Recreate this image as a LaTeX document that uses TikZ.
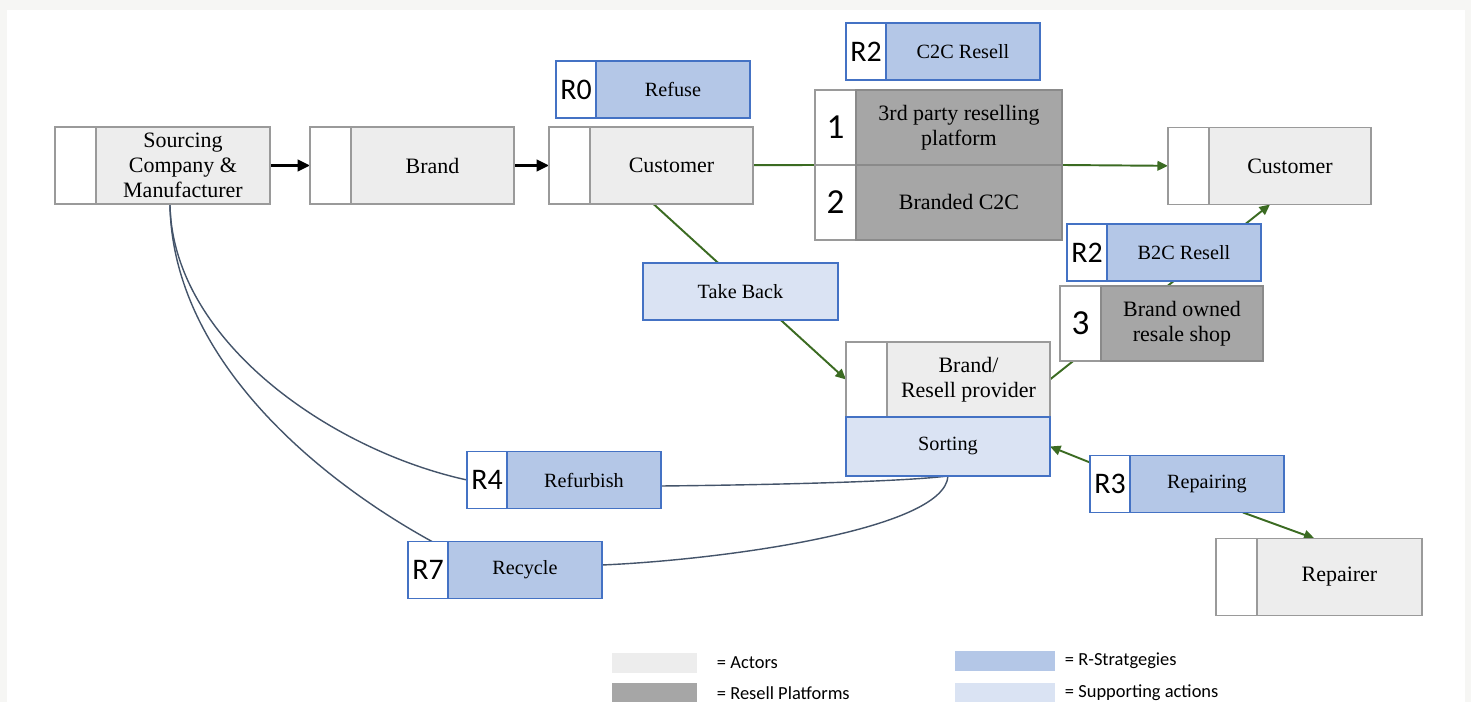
\documentclass[tikz,border=0pt]{standalone}
\usepackage{fontspec}
\setmainfont{Liberation Serif}
\newfontfamily\calibri{Carlito}
\usetikzlibrary{arrows.meta, positioning, calc}

\definecolor{actorfill}{HTML}{EDEDED}
\definecolor{actorline}{HTML}{9A9A9A}
\definecolor{platfill}{HTML}{A6A6A6}
\definecolor{platline}{HTML}{8A8A8A}
\definecolor{rfill}{HTML}{B4C7E7}
\definecolor{rline}{HTML}{4472C4}
\definecolor{suppfill}{HTML}{DAE3F3}
\definecolor{flowgreen}{HTML}{3B6B22}
\definecolor{loopblue}{HTML}{44546A}
\definecolor{paperbg}{HTML}{F6F6F4}

\pgfdeclarelayer{paper}
\pgfdeclarelayer{lines}
\pgfsetlayers{paper,lines,main}

\begin{document}
\begin{tikzpicture}[x=0.02cm, y=-0.02cm,
    every node/.style={font=\fontsize{12.5}{14.2}\selectfont, outer sep=0pt, line width=1pt},
    blanktab/.style={draw=actorline, fill=white, minimum width=0.82cm, minimum height=1.54cm, anchor=west},
    actor/.style={draw=actorline, fill=actorfill, minimum width=3.26cm, minimum height=1.54cm, align=center, inner sep=1pt},
    rtab/.style={draw=rline, fill=white, minimum width=0.8cm, minimum height=1.14cm, anchor=west, inner sep=0pt, font=\calibri\fontsize{17}{17}\selectfont},
    rbox/.style={draw=rline, fill=rfill, minimum width=3.08cm, minimum height=1.14cm, font=\fontsize{11.5}{13}\selectfont},
    ptab/.style={draw=actorline, fill=white, minimum width=0.82cm, minimum height=1.5cm, anchor=west, inner sep=0pt, font=\calibri\fontsize{20}{20}\selectfont},
    platform/.style={draw=platline, fill=platfill, minimum width=4.12cm, minimum height=1.5cm, align=center, inner sep=1pt},
    support/.style={draw=rline, fill=suppfill, minimum height=1.14cm, font=\fontsize{11.5}{13}\selectfont},
    greenflow/.style={flowgreen, line width=1.1pt},
    backflow/.style={loopblue, line width=0.8pt},
    arr/.style={-{Triangle[length=6pt,width=5.5pt]}},
    swatch/.style={minimum width=1.7cm, minimum height=0.4cm, inner sep=0pt},
    keytext/.style={font=\calibri\fontsize{10.5}{12}\selectfont, inner sep=0pt, anchor=west}
]
\useasboundingbox (0,0) rectangle (1471,702);
\begin{pgfonlayer}{paper}
\fill[paperbg] (0,0) rectangle (1471,702);
\fill[white] (7,10) rectangle (1465,702);
\end{pgfonlayer}

% actors
\node[blanktab] (srctab) at (55,165.5) {};
\node[actor, minimum width=3.48cm, right=0pt of srctab] (src) {Sourcing\\Company \&\\Manufacturer};
\node[blanktab] (brandtab) at (310,165.5) {};
\node[actor, right=0pt of brandtab] (brand) {Brand};
\node[blanktab] (cust1tab) at (549,165.5) {};
\node[actor, right=0pt of cust1tab] (cust1) {Customer};
\node[blanktab] (cust2tab) at (1168,166) {};
\node[actor, minimum width=3.24cm, right=0pt of cust2tab] (cust2) {Customer};

% resell platforms
\node[ptab] (p1tab) at (815,127.5) {1};
\node[platform, right=0pt of p1tab] (p1) {3rd party reselling\\platform};
\node[ptab, below=0pt of p1tab] (p2tab) {2};
\node[platform, right=0pt of p2tab] (p2) {Branded C2C};
\node[ptab] (p3tab) at (1060,323.5) {3};
\node[platform, minimum width=3.24cm, right=0pt of p3tab] (p3) {Brand owned\\resale shop};

% R-strategies
\node[rtab] (r0tab) at (556,89.5) {R0};
\node[rbox, right=0pt of r0tab] (refuse) {Refuse};
\node[rtab] (r2atab) at (846,51.5) {R2};
\node[rbox, right=0pt of r2atab] (c2c) {C2C Resell};
\node[rtab] (r2btab) at (1067,252.5) {R2};
\node[rbox, right=0pt of r2btab] (b2c) {B2C Resell};
\node[rtab] (r4tab) at (467,480) {R4};
\node[rbox, right=0pt of r4tab] (refurb) {Refurbish};
\node[rtab] (r7tab) at (408,570) {R7};
\node[rbox, right=0pt of r7tab] (recycle) {Recycle};
\node[rtab] (r3tab) at (1090,484) {R3};
\node[rbox, right=0pt of r3tab] (repairing) {Repairing};

% brand / resell provider
\node[blanktab, minimum height=1.5cm] (provtab) at (846,379.5) {};
\node[actor, minimum height=1.5cm, right=0pt of provtab] (prov) {Brand/\\Resell provider};
\node[support, minimum width=4.08cm, minimum height=1.18cm, anchor=north west] (sort) at (provtab.south west) {Sorting};
\node[support, minimum width=3.9cm] (takeback) at (740.5,291.5) {Take Back};
\node[blanktab] (reprtab) at (1216,577) {};
\node[actor, minimum width=3.3cm, right=0pt of reprtab] (repairer) {Repairer};

\begin{pgfonlayer}{lines}
\draw[-{Triangle[length=7pt,width=6.5pt]}, line width=1.5pt] (src) -- (brandtab);
\draw[-{Triangle[length=7pt,width=6.5pt]}, line width=1.5pt] (brand) -- (cust1tab);
\draw[greenflow] (cust1) -- (p1tab.south west);
\draw[greenflow, arr] (p1.south east) -- (cust2tab);
\draw[greenflow, arr] ($(cust1.south)+(-18,0)$) -- (provtab.west);
\draw[greenflow, arr] (prov.east) -- ($(cust2.south)+(-20,0)$);
\draw[greenflow, arr] ($(r3tab.north west)+(0,7)$) -- (sort.east);
\draw[greenflow, arr] ($(repairing.south)+(36,0)$) -- ($(repairer.north)+(-25,0)$);
% loops back to the sourcing company
\draw[backflow] ($(src.south)+(-13,0)$) .. controls (172,340) and (330,450) .. (r4tab.west);
\draw[backflow] ($(src.south)+(-13,0)$) .. controls (172,360) and (320,480) .. ($(r7tab.north)+(4,0)$);
\draw[backflow] ($(refurb.east)+(0,6)$) .. controls (760,485) and (900,482) .. (sort.south);
\draw[backflow] ($(recycle.east)+(0,-5)$) .. controls (720,560) and (945,530) .. (sort.south);
\end{pgfonlayer}

% legend
\node[swatch, fill=actorfill] (keyact) at (654.5,663) {};
\node[keytext, right=0.4cm of keyact] (keyacttext) {= Actors};
\node[swatch, fill=platfill] (keyplat) at (654.5,693) {};
\node[keytext, right=0.4cm of keyplat] (keyplattext) {= Resell Platforms};
\node[swatch, minimum width=2cm, fill=rfill] (keyr) at (1005,661) {};
\node[keytext, right=0.2cm of keyr] (keyrtext) {= R-Stratgegies};
\node[swatch, minimum width=2cm, fill=suppfill] (keysupp) at (1005,693) {};
\node[keytext, right=0.2cm of keysupp] (keysupptext) {= Supporting actions};

\end{tikzpicture}
\end{document}
